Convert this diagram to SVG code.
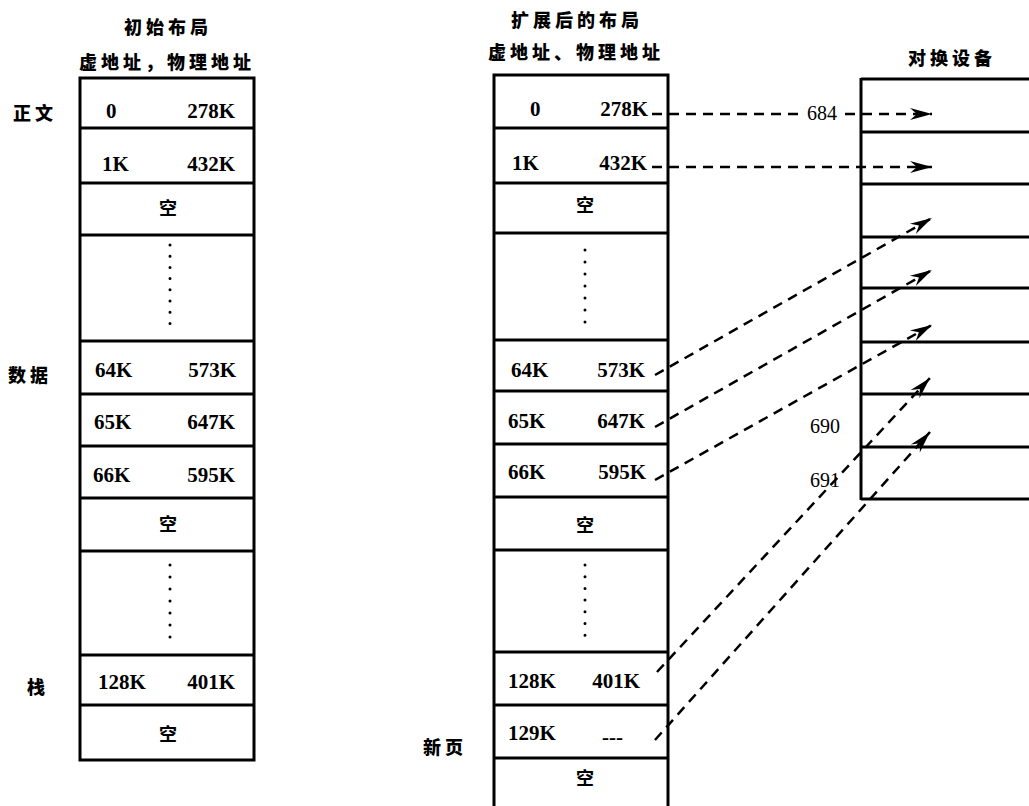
<svg xmlns="http://www.w3.org/2000/svg" width="1029" height="806" viewBox="0 0 1029 806">
<style>
.bg{fill:#fff}
.box{fill:none;stroke:#000;stroke-width:3}
.sep{stroke:#000;stroke-width:3}
.dots{stroke:#000;stroke-width:3;stroke-linecap:round}
.num{font-family:"Liberation Serif",serif;font-weight:bold;font-size:21px;fill:#000}
.lab{font-family:"Liberation Serif",serif;font-size:20px;fill:#000}
.cjk{font-family:"Noto Sans CJK SC",sans-serif;font-weight:900;font-size:18px;fill:#000;letter-spacing:4px}
.cell{font-family:"Noto Sans CJK SC",sans-serif;font-weight:bold;font-size:18px;fill:#000;text-anchor:middle}
.con{fill:none;stroke:#000;stroke-width:2.5;stroke-dasharray:10 7}
</style>
<defs>
<marker id="arr" markerUnits="userSpaceOnUse" markerWidth="28" markerHeight="16" refX="24" refY="8" orient="auto">
<path d="M2,2 L24,8 L2,14 L9,8 Z" fill="#000"/>
</marker>
</defs>
<rect class="bg" x="0" y="0" width="1029" height="806"/>

<g id="title-left">
<text class="cjk" x="124" y="34">初始布局</text>
<text class="cjk" x="79" y="69">虚地址，物理地址</text>
</g>
<g id="title-middle">
<text class="cjk" x="511" y="27">扩展后的布局</text>
<text class="cjk" x="488" y="59">虚地址、物理地址</text>
</g>
<g id="title-swap">
<text class="cjk" x="908" y="65">对换设备</text>
</g>

<g id="side-labels">
<text class="cjk" x="13" y="120">正文</text>
<text class="cjk" x="8" y="382">数据</text>
<text class="cjk" x="27" y="694">栈</text>
<text class="cjk" x="423" y="754">新页</text>
</g>

<g id="initial-layout">
<rect class="box" x="80" y="78" width="174" height="682"/>
<line class="sep" x1="80" y1="128" x2="254" y2="128"/>
<line class="sep" x1="80" y1="183" x2="254" y2="183"/>
<line class="sep" x1="80" y1="235" x2="254" y2="235"/>
<line class="sep" x1="80" y1="341" x2="254" y2="341"/>
<line class="sep" x1="80" y1="394" x2="254" y2="394"/>
<line class="sep" x1="80" y1="446" x2="254" y2="446"/>
<line class="sep" x1="80" y1="498" x2="254" y2="498"/>
<line class="sep" x1="80" y1="551" x2="254" y2="551"/>
<line class="sep" x1="80" y1="655" x2="254" y2="655"/>
<line class="sep" x1="80" y1="705" x2="254" y2="705"/>
<text class="num" x="106" y="118">0</text>
<text class="num" x="235" y="118" text-anchor="end">278K</text>
<text class="num" x="102" y="171">1K</text>
<text class="num" x="235" y="171" text-anchor="end">432K</text>
<text class="cell" x="168" y="215">空</text>
<line class="dots" x1="170" y1="245" x2="170" y2="324" stroke-dasharray="0 11.2"/>
<text class="num" x="95" y="377">64K</text>
<text class="num" x="236" y="377" text-anchor="end">573K</text>
<text class="num" x="94" y="429">65K</text>
<text class="num" x="235" y="429" text-anchor="end">647K</text>
<text class="num" x="93" y="482">66K</text>
<text class="num" x="235" y="482" text-anchor="end">595K</text>
<text class="cell" x="168" y="531">空</text>
<line class="dots" x1="170" y1="565" x2="170" y2="638" stroke-dasharray="0 12"/>
<text class="num" x="98" y="689">128K</text>
<text class="num" x="235" y="689" text-anchor="end">401K</text>
<text class="cell" x="168" y="741">空</text>
</g>

<g id="expanded-layout">
<path class="box" d="M494,806 L494,75 L668,75 L668,806"/>
<line class="sep" x1="494" y1="128" x2="668" y2="128"/>
<line class="sep" x1="494" y1="183" x2="668" y2="183"/>
<line class="sep" x1="494" y1="233" x2="668" y2="233"/>
<line class="sep" x1="494" y1="340" x2="668" y2="340"/>
<line class="sep" x1="494" y1="391" x2="668" y2="391"/>
<line class="sep" x1="494" y1="444" x2="668" y2="444"/>
<line class="sep" x1="494" y1="497" x2="668" y2="497"/>
<line class="sep" x1="494" y1="550" x2="668" y2="550"/>
<line class="sep" x1="494" y1="652" x2="668" y2="652"/>
<line class="sep" x1="494" y1="705" x2="668" y2="705"/>
<line class="sep" x1="494" y1="758" x2="668" y2="758"/>
<text class="num" x="530" y="116">0</text>
<text class="num" x="648" y="116" text-anchor="end">278K</text>
<text class="num" x="512" y="170">1K</text>
<text class="num" x="647" y="170" text-anchor="end">432K</text>
<text class="cell" x="585" y="212">空</text>
<line class="dots" x1="585" y1="250" x2="585" y2="323" stroke-dasharray="0 12"/>
<text class="num" x="511" y="377">64K</text>
<text class="num" x="645" y="377" text-anchor="end">573K</text>
<text class="num" x="508" y="428">65K</text>
<text class="num" x="645" y="428" text-anchor="end">647K</text>
<text class="num" x="508" y="479">66K</text>
<text class="num" x="646" y="479" text-anchor="end">595K</text>
<text class="cell" x="585" y="532">空</text>
<line class="dots" x1="585" y1="565" x2="585" y2="636" stroke-dasharray="0 11.7"/>
<text class="num" x="508" y="688">128K</text>
<text class="num" x="640" y="688" text-anchor="end">401K</text>
<text class="num" x="508" y="740">129K</text>
<text class="num" x="602" y="744">---</text>
<text class="cell" x="585" y="785">空</text>
</g>

<g id="swap-device">
<line class="sep" x1="861" y1="78" x2="861" y2="500"/>
<line class="sep" x1="861" y1="79" x2="1029" y2="79"/>
<line class="sep" x1="861" y1="132" x2="1029" y2="132"/>
<line class="sep" x1="861" y1="184" x2="1029" y2="184"/>
<line class="sep" x1="861" y1="237" x2="1029" y2="237"/>
<line class="sep" x1="861" y1="288" x2="1029" y2="288"/>
<line class="sep" x1="861" y1="342" x2="1029" y2="342"/>
<line class="sep" x1="861" y1="394" x2="1029" y2="394"/>
<line class="sep" x1="861" y1="447" x2="1029" y2="447"/>
<line class="sep" x1="861" y1="499" x2="1029" y2="499"/>
<text class="lab" x="807" y="120">684</text>
<text class="lab" x="810" y="433">690</text>
<text class="lab" x="810" y="487">691</text>
</g>

<g id="connectors">
<path class="con" d="M652,114 L803,114"/>
<path class="con" d="M845,114 L932,114" marker-end="url(#arr)"/>
<path class="con" d="M652,167 L932,167" marker-end="url(#arr)"/>
<path class="con" d="M655,375 L932,218" marker-end="url(#arr)"/>
<path class="con" d="M655,427 L932,270" marker-end="url(#arr)"/>
<path class="con" d="M655,480 L932,325" marker-end="url(#arr)"/>
<path class="con" d="M657,672 L930,378" marker-end="url(#arr)"/>
<path class="con" d="M655,740 L930,432" marker-end="url(#arr)"/>
</g>
</svg>
